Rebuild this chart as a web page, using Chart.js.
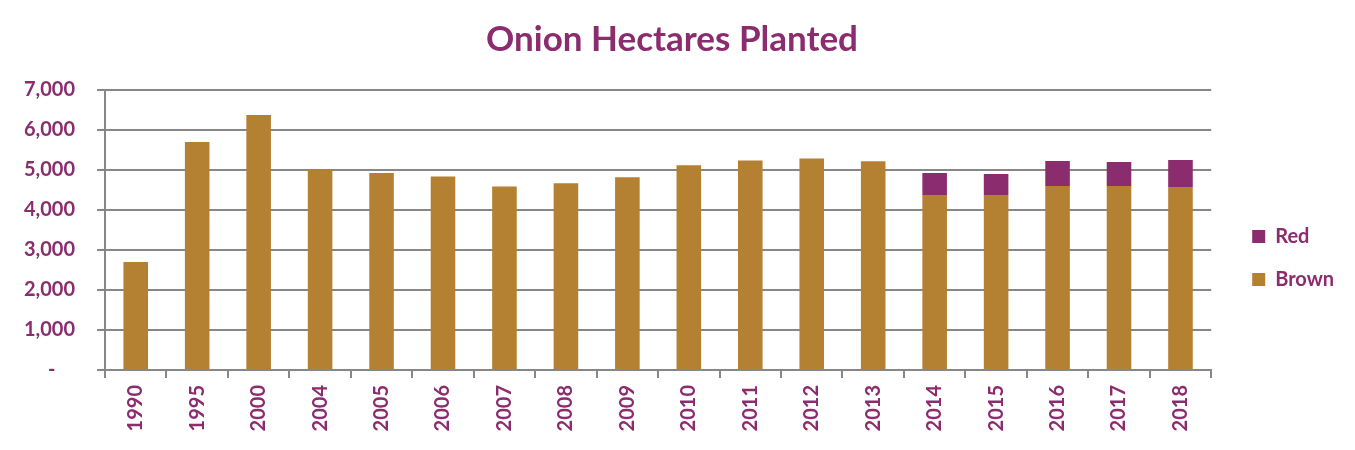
<!DOCTYPE html>
<html>
<head>
<meta charset="utf-8">
<script src="https://cdn.jsdelivr.net/npm/chart.js@4"></script>
<style>
  html, body { margin: 0; padding: 0; background: #ffffff; }
  #wrap { width: 1355px; height: 450px; }
</style>
</head>
<body>
<div id="wrap"><canvas id="c" width="1355" height="450"></canvas></div>
<script>
const years = ['1990','1995','2000','2004','2005','2006','2007','2008','2009','2010','2011','2012','2013','2014','2015','2016','2017','2018'];
const brown = [2700,5700,6375,5020,4925,4840,4590,4670,4820,5120,5240,5290,5220,4375,4375,4600,4600,4575];
const red   = [null,null,null,null,null,null,null,null,null,null,null,null,null,550,525,625,600,675];
const yTicks = [0,1000,2000,3000,4000,5000,6000,7000];

const PURPLE = '#8B2C6E';
const BROWN = '#B48032';
const GRID = '#878787';
const FONT = 'Lato, "Open Sans", sans-serif';

new Chart(document.getElementById('c'), {
  type: 'bar',
  data: {
    labels: years,
    datasets: [
      { label: 'Brown', data: brown, backgroundColor: BROWN, borderWidth: 0, categoryPercentage: 0.4, barPercentage: 1.0 },
      { label: 'Red', data: red, backgroundColor: PURPLE, borderWidth: 0, categoryPercentage: 0.4, barPercentage: 1.0 }
    ]
  },
  options: {
    responsive: false,
    devicePixelRatio: 1,
    animation: false,
    layout: { padding: { left: 0, right: 11, top: 0, bottom: 0 } },
    plugins: {
      title: {
        display: true,
        text: 'Onion Hectares Planted',
        color: PURPLE,
        font: { family: FONT, size: 35, weight: 'bold' },
        padding: { top: 19, bottom: 29 }
      },
      legend: {
        position: 'right',
        align: 'center',
        reverse: true,
        title: { display: true, text: ' ', padding: 0, font: { family: FONT, size: 55, lineHeight: 1.2 } },
        labels: {
          color: PURPLE,
          font: { family: FONT, size: 20, weight: 'bold' },
          boxWidth: 13,
          boxHeight: 13,
          padding: 23
        }
      },
      tooltip: { enabled: false }
    },
    scales: {
      x: {
        stacked: true,
        afterFit: (s) => { s.height = 80; },
        grid: { display: true, drawOnChartArea: false, drawTicks: true, tickLength: 8, color: GRID, lineWidth: 2, offset: true },
        border: { color: GRID, width: 2 },
        ticks: {
          color: PURPLE,
          font: { family: FONT, size: 20, weight: 'bold' },
          minRotation: 90, maxRotation: 90,
          padding: 7,
          autoSkip: false
        }
      },
      y: {
        stacked: true,
        min: 0,
        max: 7000,
        afterFit: (s) => { s.width = 105; },
        afterBuildTicks: (s) => { s.ticks = yTicks.map(v => ({ value: v })); },
        grid: { color: GRID, lineWidth: 2, tickLength: 8 },
        border: { color: GRID, width: 2 },
        ticks: {
          color: PURPLE,
          font: { family: FONT, size: 20, weight: 'bold' },
          padding: 22,
          callback: (v) => v === 0 ? '-    ' : v.toLocaleString('en-US')
        }
      },
      gap: {
        type: 'linear',
        position: 'right',
        display: true,
        afterFit: (s) => { s.width = 18; },
        grid: { display: false, drawTicks: false },
        border: { display: false },
        ticks: { display: false }
      }
    }
  }
});
</script>
</body>
</html>
